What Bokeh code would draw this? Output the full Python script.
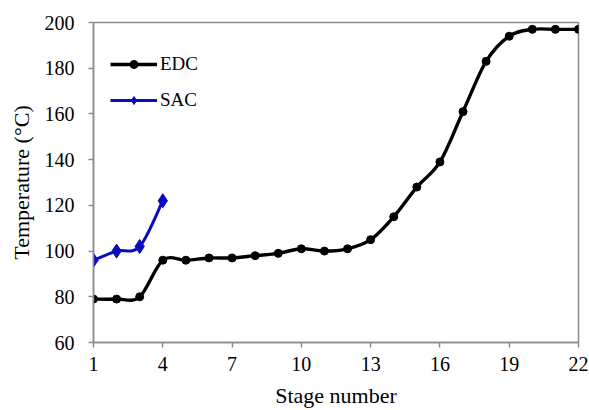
from bokeh.plotting import figure
from bokeh.models import Range1d, FixedTicker, Legend, LegendItem
from bokeh.embed import file_html
from bokeh.resources import INLINE

stages_edc = list(range(1, 23))
temp_edc = [79, 79, 80, 96, 96, 97, 97, 98, 99, 101, 100, 101, 105, 115,
            128, 139, 161, 183, 194, 197, 197, 197]
stages_sac = [1, 2, 3, 4]
temp_sac = [96, 100, 102, 122]
x_ticks = [1, 4, 7, 10, 13, 16, 19, 22]
y_ticks = [60, 80, 100, 120, 140, 160, 180, 200]

FONT = "Liberation Serif"
GRAY = "#8c8c8c"


def smooth_segments(xs, ys):
    """Excel-style smoothed line: cubic Bezier segments (Catmull-Rom, tension 1/6)."""
    n = len(xs)
    out = dict(x0=[], y0=[], x1=[], y1=[], cx0=[], cy0=[], cx1=[], cy1=[])
    for i in range(n - 1):
        im1 = max(i - 1, 0)
        ip2 = min(i + 2, n - 1)
        out["x0"].append(xs[i]); out["y0"].append(ys[i])
        out["x1"].append(xs[i + 1]); out["y1"].append(ys[i + 1])
        out["cx0"].append(xs[i] + (xs[i + 1] - xs[im1]) / 6)
        out["cy0"].append(ys[i] + (ys[i + 1] - ys[im1]) / 6)
        out["cx1"].append(xs[i + 1] - (xs[ip2] - xs[i]) / 6)
        out["cy1"].append(ys[i + 1] - (ys[ip2] - ys[i]) / 6)
    return out


p = figure(width=589, height=410, output_backend="svg", toolbar_location=None,
           x_range=Range1d(1, 22), y_range=Range1d(60, 200),
           min_border_left=93, min_border_right=11, min_border_top=22,
           min_border_bottom=68)
p.xgrid.visible = False
p.ygrid.visible = False
p.outline_line_color = GRAY
p.outline_line_width = 1.5

for ax in (p.xaxis[0], p.yaxis[0]):
    ax.axis_line_color = GRAY
    ax.axis_line_width = 1.5
    ax.major_tick_line_color = GRAY
    ax.major_tick_line_width = 1.5
    ax.major_tick_out = 5
    ax.major_tick_in = 0
    ax.minor_tick_line_color = None
    ax.major_label_text_font = FONT
    ax.major_label_text_font_size = "20px"
    ax.major_label_text_color = "black"
    ax.axis_label_text_font = FONT
    ax.axis_label_text_font_size = "22px"
    ax.axis_label_text_font_style = "normal"
    ax.axis_label_text_color = "black"

p.xaxis.ticker = FixedTicker(ticks=x_ticks)
p.yaxis.ticker = FixedTicker(ticks=y_ticks)
p.xaxis.axis_label = "Stage number"
p.yaxis.axis_label = "Temperature (°C)"
p.xaxis.major_label_standoff = 9
p.xaxis.axis_label_standoff = 9
p.yaxis.major_label_standoff = 14
p.yaxis.axis_label_standoff = 8

e = smooth_segments(stages_edc, temp_edc)
s = smooth_segments(stages_sac, temp_sac)

r_e_line = p.bezier(**e, line_color="black", line_width=3.4)
r_e_pts = p.scatter(stages_edc, temp_edc, marker="circle", size=8,
                    fill_color="black", line_color="black")
r_s_line = p.bezier(**s, line_color="#0a0ac0", line_width=3)
r_s_pts = p.scatter(stages_sac, temp_sac, marker="diamond", size=14,
                    fill_color="#0a0ac0", line_color="#0a0ac0")

legend = Legend(items=[LegendItem(label="EDC", renderers=[r_e_line, r_e_pts]),
                       LegendItem(label="SAC", renderers=[r_s_line, r_s_pts])],
                location=(17, 231), border_line_color=None,
                background_fill_alpha=0, label_text_font=FONT,
                label_text_color="black",
                label_text_font_size="19px", glyph_width=47, glyph_height=20,
                label_height=20, label_standoff=3, spacing=14, padding=0,
                margin=0)
p.add_layout(legend, "center")

open("out.html", "w").write(file_html(p, INLINE))
